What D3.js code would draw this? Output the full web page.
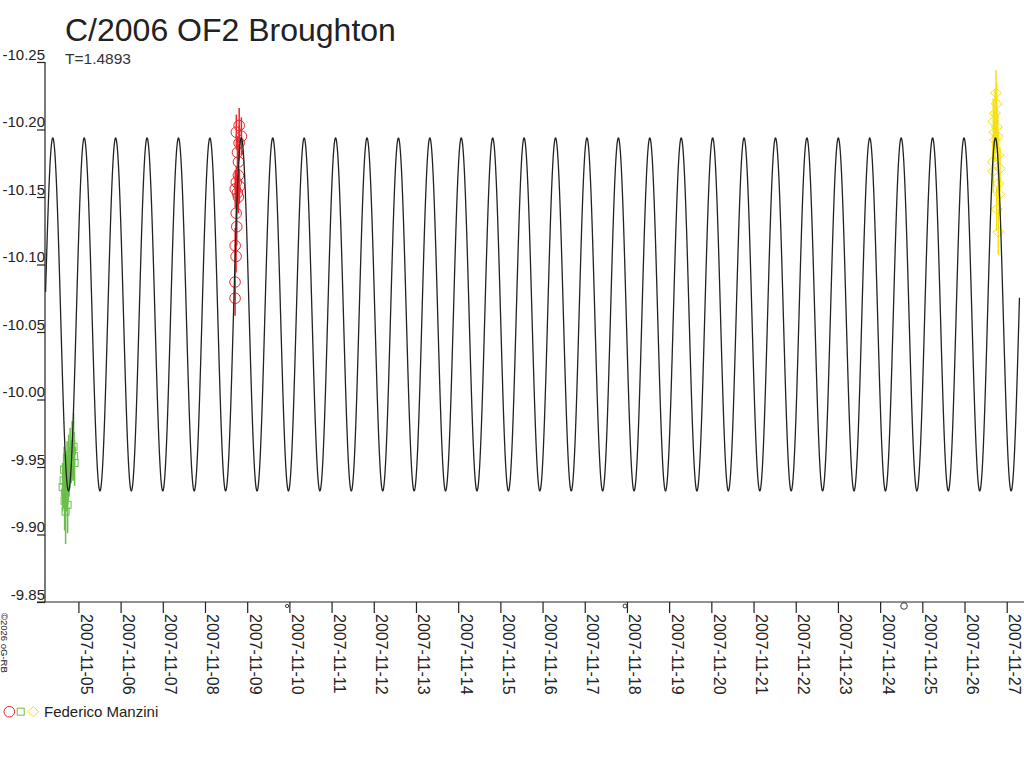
<!DOCTYPE html>
<html>
<head>
<meta charset="utf-8">
<script src="https://cdn.jsdelivr.net/npm/d3@7"></script>
<style>
  body { margin: 0; background: #fff; }
  svg { display: block; font-family: "Liberation Sans", Arial, sans-serif; }
</style>
</head>
<body>
<div id="chart"></div>
<script>
// Texts
const title = "C/2006 OF2 Broughton";
const periodLabel = "T=1.4893";
const observer = "Federico Manzini";
const credit = "©2026 oG-RB";

// Fourier fit of the light curve (double peaked, rotation period in days)
const period = 1.4893;
const fitMean = -10.063;
const fitAmplitude = 0.1307;
const fitEpoch = "2007-11-04T09:26";   // time of a brightness maximum
const fitStart = "2007-11-04T05:20";
const fitEnd = "2007-11-27T07:20";

// Axis range and ticks
const viewStart = "2007-11-04T05:00";
const viewEnd = "2007-11-27T09:50";
const yTicks = [-10.25, -10.20, -10.15, -10.10, -10.05, -10.00, -9.95, -9.90, -9.85];
const xTickDays = ["2007-11-05", "2007-11-06", "2007-11-07", "2007-11-08", "2007-11-09",
  "2007-11-10", "2007-11-11", "2007-11-12", "2007-11-13", "2007-11-14", "2007-11-15",
  "2007-11-16", "2007-11-17", "2007-11-18", "2007-11-19", "2007-11-20", "2007-11-21",
  "2007-11-22", "2007-11-23", "2007-11-24", "2007-11-25", "2007-11-26", "2007-11-27"];

// Session 1 (green squares)
const greenTimes = ["2007-11-04T15:01", "2007-11-04T15:35", "2007-11-04T15:52", "2007-11-04T16:09",
  "2007-11-04T16:26", "2007-11-04T16:43", "2007-11-04T17:01", "2007-11-04T17:17", "2007-11-04T17:34",
  "2007-11-04T17:52", "2007-11-04T18:09", "2007-11-04T18:26", "2007-11-04T18:43", "2007-11-04T19:17",
  "2007-11-04T19:51", "2007-11-04T20:25", "2007-11-04T21:16", "2007-11-04T21:33", "2007-11-04T21:50"];
const greenMags = [-9.935, -9.940, -9.948, -9.925, -9.931, -9.917, -9.943, -9.937, -9.951, -9.922,
  -9.942, -9.955, -9.946, -9.959, -9.954, -9.962, -9.965, -9.958, -9.953];
const greenErrs = [0.018, 0.020, 0.017, 0.022, 0.019, 0.024, 0.016, 0.020, 0.018, 0.021,
  0.017, 0.019, 0.018, 0.020, 0.016, 0.022, 0.025, 0.018, 0.017];

// Session 2 (red circles)
const redTimes = ["2007-11-08T17:07", "2007-11-08T17:05", "2007-11-08T17:41", "2007-11-08T17:10",
  "2007-11-08T18:05", "2007-11-08T17:45", "2007-11-08T18:59", "2007-11-08T18:25", "2007-11-08T17:12",
  "2007-11-08T19:34", "2007-11-08T17:48", "2007-11-08T19:00", "2007-11-08T19:02", "2007-11-08T18:28",
  "2007-11-08T19:24", "2007-11-08T20:43", "2007-11-08T17:50", "2007-11-08T19:27"];
const redMags = [-10.075, -10.087, -10.106, -10.114, -10.128, -10.138, -10.150, -10.153, -10.156,
  -10.158, -10.161, -10.166, -10.176, -10.183, -10.190, -10.195, -10.198, -10.203];
const redErrs = [0.013, 0.013, 0.012, 0.013, 0.014, 0.013, 0.012, 0.013, 0.014,
  0.013, 0.012, 0.013, 0.013, 0.012, 0.013, 0.014, 0.013, 0.013];

// Session 3 (yellow diamonds)
const yellowTimes = ["2007-11-26T16:02", "2007-11-26T16:22", "2007-11-26T16:22", "2007-11-26T16:56",
  "2007-11-26T17:21", "2007-11-26T17:21", "2007-11-26T17:54", "2007-11-26T18:19", "2007-11-26T18:19",
  "2007-11-26T18:19", "2007-11-26T18:53", "2007-11-26T19:14", "2007-11-26T19:14", "2007-11-26T19:14",
  "2007-11-26T19:48", "2007-11-26T20:11"];
const yellowMags = [-10.176, -10.206, -10.169, -10.198, -10.212, -10.192, -10.227, -10.219, -10.202,
  -10.141, -10.195, -10.181, -10.160, -10.124, -10.152, -10.171];
const yellowErrs = [0.016, 0.017, 0.016, 0.016, 0.017, 0.016, 0.017, 0.016, 0.016,
  0.016, 0.017, 0.016, 0.016, 0.017, 0.016, 0.016];

// small marks on the time axis
const axisMarkTimes = ["2007-11-09T22:42", "2007-11-17T22:55", "2007-11-24T13:35"];

const parseTime = d3.utcParse("%Y-%m-%dT%H:%M");
const parseDay = d3.utcParse("%Y-%m-%d");
const DAY = 864e5;

const width = 1024, height = 768;
const svg = d3.select("#chart").append("svg")
    .attr("width", width)
    .attr("height", height);

const x = d3.scaleUtc()
    .domain([parseTime(viewStart), parseTime(viewEnd)])
    .range([45, 1024]);
const y = d3.scaleLinear()
    .domain([yTicks[0], yTicks[yTicks.length - 1]])
    .range([62, 602]);

// title
svg.append("text")
    .attr("x", 65).attr("y", 41)
    .attr("font-size", "32px")
    .attr("fill", "#222")
    .text(title);
svg.append("text")
    .attr("x", 65).attr("y", 64)
    .attr("font-size", "15.5px")
    .attr("fill", "#333")
    .text(periodLabel);

// axes
const yAxis = svg.append("g")
    .attr("transform", "translate(45,0)")
    .call(d3.axisLeft(y).tickValues(yTicks).tickSize(8).tickFormat(d => d.toFixed(2)));
yAxis.select(".domain").attr("stroke", "#222").attr("d", "M0,62V602");
yAxis.selectAll(".tick line").attr("stroke", "#222");
yAxis.selectAll(".tick text")
    .attr("x", 0)
    .attr("dy", -3)
    .attr("font-size", "15px")
    .attr("font-family", null)
    .attr("fill", "#222")
    .attr("text-anchor", "end");

const xAxis = svg.append("g")
    .attr("transform", "translate(0,602)")
    .call(d3.axisBottom(x)
        .tickValues(xTickDays.map(parseDay))
        .tickSize(11)
        .tickFormat(d3.utcFormat("%Y-%m-%d")));
xAxis.select(".domain").attr("stroke", "#222").attr("d", "M37,0H1024");
xAxis.selectAll(".tick line").attr("stroke", "#222");
xAxis.selectAll(".tick text")
    .attr("transform", "rotate(90)")
    .attr("x", 12)
    .attr("y", -2)
    .attr("dy", 0)
    .attr("font-size", "16px")
    .attr("font-family", null)
    .attr("fill", "#222")
    .attr("text-anchor", "start");
svg.selectAll(".domain, .tick line").attr("stroke-width", 1.2);

// observation sessions
const sessions = [
  {times: greenTimes, mags: greenMags, errs: greenErrs, color: "#6abf4b", symbol: "square"},
  {times: redTimes, mags: redMags, errs: redErrs, color: "#e8282b", symbol: "circle"},
  {times: yellowTimes, mags: yellowMags, errs: yellowErrs, color: "#f5e10f", symbol: "diamond"}
];

function drawSymbol(g, kind, cx, cy, color) {
  if (kind === "circle") {
    g.append("circle").attr("cx", cx).attr("cy", cy).attr("r", 5.3)
      .attr("fill", "none").attr("stroke", color).attr("stroke-width", 1);
  } else if (kind === "square") {
    g.append("rect").attr("x", cx - 3.5).attr("y", cy - 3.5).attr("width", 7).attr("height", 7)
      .attr("fill", "none").attr("stroke", color).attr("stroke-width", 1);
  } else {
    g.append("path")
      .attr("d", `M${cx},${cy - 5}L${cx + 5.5},${cy}L${cx},${cy + 5}L${cx - 5.5},${cy}Z`)
      .attr("fill", "none").attr("stroke", color).attr("stroke-width", 1);
  }
}

const dataG = svg.append("g");
sessions.forEach(s => {
  const pts = s.times.map((t, i) => ({t: parseTime(t), m: s.mags[i], e: s.errs[i]}));
  dataG.append("g").selectAll("line")
    .data(pts)
    .join("line")
      .attr("x1", d => x(d.t)).attr("x2", d => x(d.t))
      .attr("y1", d => y(d.m - d.e)).attr("y2", d => y(d.m + d.e))
      .attr("stroke", s.color)
      .attr("stroke-width", 1.5);
  const sg = dataG.append("g");
  pts.forEach(d => drawSymbol(sg, s.symbol, x(d.t), y(d.m), s.color));
});

// fitted curve
const epoch = parseTime(fitEpoch).getTime();
const fitT = d3.range(parseTime(fitStart).getTime(), parseTime(fitEnd).getTime(), 0.004 * DAY);
const fitMag = t => fitMean - fitAmplitude * Math.cos(4 * Math.PI * ((t - epoch) / DAY) / period);
svg.append("path")
    .datum(fitT)
    .attr("fill", "none")
    .attr("stroke", "#222")
    .attr("stroke-width", 1.3)
    .attr("d", d3.line().x(t => x(new Date(t))).y(t => y(fitMag(t))));

// marks on the time axis
const markR = [1.6, 2, 3.3];
svg.append("g").selectAll("circle")
  .data(axisMarkTimes.map(parseTime))
  .join("circle")
    .attr("cx", d => x(d))
    .attr("cy", 606)
    .attr("r", (d, i) => markR[i])
    .attr("fill", "none")
    .attr("stroke", "#222")
    .attr("stroke-width", 0.9);

// credit
svg.append("text")
    .attr("transform", "translate(1,613) rotate(90)")
    .attr("font-size", "9.5px")
    .attr("fill", "#222")
    .text(credit);

// legend
const legend = svg.append("g");
drawSymbol(legend, "circle", 9.3, 711.7, "#e8282b");
drawSymbol(legend, "square", 20.7, 711.7, "#6abf4b");
drawSymbol(legend, "diamond", 33.3, 711.7, "#f5e10f");
legend.append("text")
    .attr("x", 44).attr("y", 717)
    .attr("font-size", "15px")
    .attr("fill", "#222")
    .text(observer);
</script>
</body>
</html>
